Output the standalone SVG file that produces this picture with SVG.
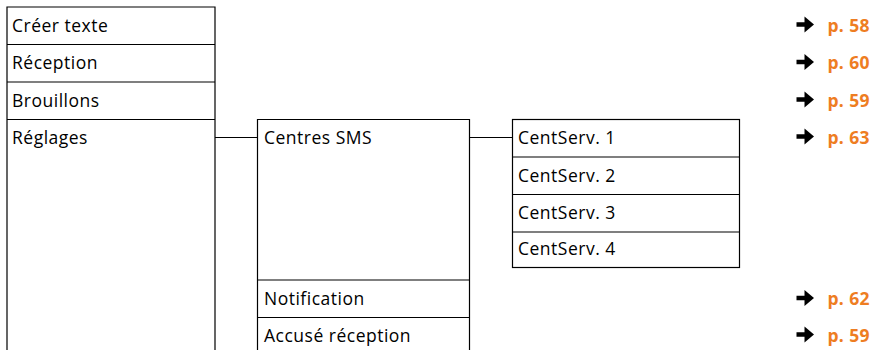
<svg xmlns="http://www.w3.org/2000/svg" width="874" height="350" viewBox="0 0 874 350">
<style>
.ln{stroke:#000;stroke-width:1.2;fill:none}
.t{font-family:"Open Sans","Noto Sans",sans-serif;font-size:17.5px;letter-spacing:0.5px;fill:#000}
.p{font-family:"Open Sans","Noto Sans",sans-serif;font-size:17.5px;font-weight:bold;letter-spacing:0.4px;fill:#EE7D22}
</style>
<defs>
<path id="arr" d="M0,-2.3 L8,-2.3 L8,-8 L17.5,0 L8,8 L8,2.3 L0,2.3 Z" fill="#000"/>
</defs>
<g id="col1">
<path class="ln" d="M7,350 V7 H215 V350 M7,44.5 H215 M7,82 H215 M7,119.5 H215"/>
</g>
<g id="n-creer"><text class="t" x="12" y="31.5">Créer texte</text></g>
<g id="n-reception"><text class="t" x="12" y="69">Réception</text></g>
<g id="n-brouillons"><text class="t" x="12" y="106.5">Brouillons</text></g>
<g id="n-reglages"><text class="t" x="12" y="143.5">Réglages</text></g>
<g id="col2">
<path class="ln" d="M257.5,350 V119.5 H469.5 V350 M257.5,280 H469.5 M257.5,317.5 H469.5"/>
</g>
<g id="n-centres"><text class="t" x="264" y="143.5">Centres SMS</text></g>
<g id="n-notif"><text class="t" x="264" y="305">Notification</text></g>
<g id="n-accuse"><text class="t" x="264" y="341.5">Accusé réception</text></g>
<g id="col3">
<rect class="ln" x="512.5" y="119.5" width="227" height="148"/>
<path class="ln" d="M512.5,157 H739.5 M512.5,194.5 H739.5 M512.5,232 H739.5"/>
</g>
<g id="n-cs1"><text class="t" x="518" y="143.5">CentServ. 1</text></g>
<g id="n-cs2"><text class="t" x="518" y="181.5">CentServ. 2</text></g>
<g id="n-cs3"><text class="t" x="518" y="218.5">CentServ. 3</text></g>
<g id="n-cs4"><text class="t" x="518" y="255">CentServ. 4</text></g>
<g id="connectors">
<path class="ln" d="M215,137.5 H257.5 M469.5,137.5 H512.5"/>
</g>
<g id="refs">
<use href="#arr" x="796.5" y="24.5"/><text class="p" x="870" y="31.5" text-anchor="end">p. 58</text>
<use href="#arr" x="796.5" y="62"/><text class="p" x="870" y="69" text-anchor="end">p. 60</text>
<use href="#arr" x="796.5" y="99.5"/><text class="p" x="870" y="106.5" text-anchor="end">p. 59</text>
<use href="#arr" x="796.5" y="136.5"/><text class="p" x="870" y="143.5" text-anchor="end">p. 63</text>
<use href="#arr" x="796.5" y="298"/><text class="p" x="870" y="305" text-anchor="end">p. 62</text>
<use href="#arr" x="796.5" y="334.5"/><text class="p" x="870" y="341.5" text-anchor="end">p. 59</text>
</g>
</svg>
